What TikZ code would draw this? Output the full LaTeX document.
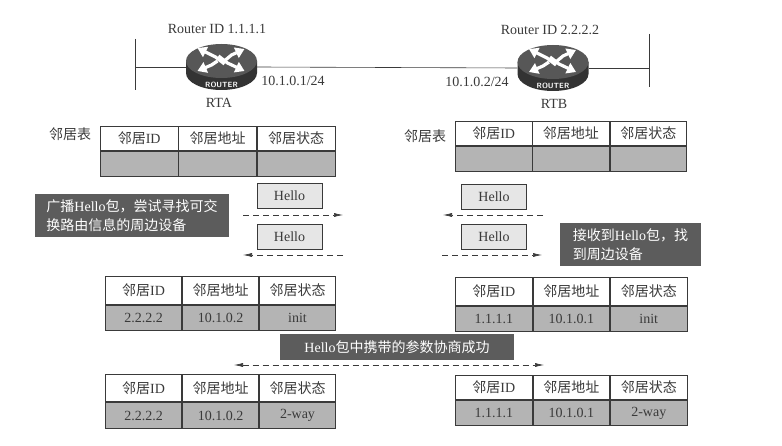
\documentclass[tikz,border=0pt]{standalone}
\usepackage{fontspec}
\setmainfont{Liberation Serif}
\newfontfamily\cjk{Noto Sans CJK SC}
\usetikzlibrary{shapes.geometric,arrows.meta}
\definecolor{inkgray}{HTML}{3A3A3A}
\definecolor{rowgray}{HTML}{B4B4B4}
\definecolor{darkgray}{HTML}{5C5C5C}
\definecolor{hellogray}{HTML}{E6E6E6}
\newcommand{\ZH}[1]{{\cjk #1}}
\tikzset{
  cell/.style={draw=inkgray, line width=0.7pt, anchor=north west, inner sep=0pt, text=inkgray, font=\fontsize{14}{16}\selectfont},
  headcell/.style={cell, fill=white},
  datacell/.style={cell, fill=rowgray},
  hellobox/.style={draw=inkgray, fill=hellogray, line width=0.7pt, inner sep=0pt, minimum width=65pt, minimum height=25pt, text=inkgray, font=\fontsize{14}{16}\selectfont},
  notebox/.style={fill=darkgray, inner sep=0pt, text=white, font=\fontsize{14}{19}\selectfont, align=left},
  label/.style={text=inkgray, inner sep=0pt, font=\fontsize{14}{16}\selectfont},
  hopline/.style={draw=inkgray, dashed, dash pattern=on 6pt off 4pt, line width=0.6pt, -{Latex[length=9pt,width=4pt]}},
  hopboth/.style={hopline, {Latex[length=9pt,width=4pt]}-{Latex[length=9pt,width=4pt]}},
  wire/.style={draw=inkgray, line width=0.6pt},
  routerbody/.style={ellipse, inner sep=0pt, minimum width=71pt, minimum height=46pt},
  routerarrow/.style={white, line width=3.2pt, -{Triangle[length=9pt,width=11pt]}},
}

% name, left, column width, top, head height, row height, values
\newcommand{\NBtable}[9]{
  \node[headcell, minimum width=#3pt, minimum height=#5pt] (#1h1) at (#2, #4) {\ZH{邻居}ID};
  \node[headcell, minimum width=#3pt, minimum height=#5pt] (#1h2) at (#1h1.north east) {\ZH{邻居地址}};
  \node[headcell, minimum width=#3pt, minimum height=#5pt] (#1h3) at (#1h2.north east) {\ZH{邻居状态}};
  \node[datacell, minimum width=#3pt, minimum height=#6pt] (#1d1) at (#1h1.south west) {#7};
  \node[datacell, minimum width=#3pt, minimum height=#6pt] (#1d2) at (#1h2.south west) {#8};
  \node[datacell, minimum width=#3pt, minimum height=#6pt] (#1d3) at (#1h3.south west) {#9};
}

% name, centre
\newcommand{\Router}[2]{
  \node[routerbody] (#1) at #2 {};
  \begin{scope}[shift={#2}]
    \fill[black!80] (-35.5,-6) -- (-35.5,6) arc[start angle=180, end angle=0, x radius=35.5, y radius=17] -- (35.5,-6) -- cycle;
    \fill[darkgray!95!black] (0,-6) ellipse[x radius=35.5, y radius=17];
    \draw[routerarrow] (3,-3) -- (-6,-10) -- (-24,-19);
    \draw[routerarrow] (4,-7) -- (10,-12) -- (23,-18);
    \draw[routerarrow] (-4,-6) -- (-10,-2) -- (-24,4);
    \draw[routerarrow] (-3,-11) -- (6,-4) -- (23,4);
    \node[white, inner sep=0pt, font=\sffamily\bfseries\fontsize{7.5}{8}\selectfont] (#1lab) at (0,18) {ROUTER};
  \end{scope}
}

\begin{document}
\begin{tikzpicture}[x=1pt, y=-1pt]

  \useasboundingbox (0,0) rectangle (782,446);
  \fill[white] (0,0) rectangle (782,446);

  \coordinate (leftA) at (135,39);
  \coordinate (leftB) at (135,90);
  \coordinate (leftM) at (135,67);
  \coordinate (rightA) at (649,34);
  \coordinate (rightB) at (649,87);
  \coordinate (rightM) at (649,68);

  \draw[wire] (leftA) -- (leftB);
  \draw[wire] (rightA) -- (rightB);

  \Router{RTA}{(221.5,67)}
  \Router{RTB}{(553,68)}

  \draw[wire] (leftM) -- (RTA.west);
  \draw[wire] (RTA.east) -- (RTB.west);
  \draw[wire] (RTB.east) -- (rightM);

  \node[label] (ridA) at (217,29) {Router ID 1.1.1.1};
  \node[label] (ridB) at (550,30) {Router ID 2.2.2.2};
  \node[label] (ipA) at (293,81) {10.1.0.1/24};
  \node[label] (ipB) at (477,82) {10.1.0.2/24};
  \node[label] (nameA) at (219,103) {RTA};
  \node[label] (nameB) at (554,104) {RTB};
  \node[label] (tabA) at (70,134) {\ZH{邻居表}};
  \node[label] (tabB) at (425,136) {\ZH{邻居表}};

  % neighbour tables
  \NBtable{ta}{100}{77.7}{126}{24.3}{25.3}{}{}{}
  \NBtable{tb}{455}{76.6}{121}{24.3}{25.3}{}{}{}
  \NBtable{tc}{105}{76.3}{276}{28.3}{25.3}{2.2.2.2}{10.1.0.2}{init}
  \NBtable{td}{455}{76.8}{277}{28.3}{25.3}{1.1.1.1}{10.1.0.1}{init}
  \NBtable{te}{105}{76.3}{374}{27.3}{26.3}{2.2.2.2}{10.1.0.2}{2-way}
  \NBtable{tf}{455}{76.8}{375}{24.3}{25.3}{1.1.1.1}{10.1.0.1}{2-way}

  % hello exchange
  \node[hellobox] (helloA) at (289.5,195.5) {Hello};
  \node[hellobox] (helloB) at (289.5,236.5) {Hello};
  \node[hellobox] (helloC) at (494,196.5) {Hello};
  \node[hellobox] (helloD) at (494,237) {Hello};

  \coordinate (a1) at (243,215);
  \coordinate (a2) at (343,215);
  \coordinate (b1) at (243,255);
  \coordinate (b2) at (343,255);
  \coordinate (c1) at (443,215);
  \coordinate (c2) at (543,215);
  \coordinate (d1) at (442,255);
  \coordinate (d2) at (542,255);
  \coordinate (e1) at (234,365);
  \coordinate (e2) at (544,365);

  \draw[hopline] (a1) -- (a2);
  \draw[hopline] (b2) -- (b1);
  \draw[hopline] (c2) -- (c1);
  \draw[hopline] (d1) -- (d2);
  \draw[hopboth] (e1) -- (e2);

  \node[notebox, minimum width=194pt, minimum height=43pt] (noteA) at (132,215.5) {\ZH{广播}Hello\ZH{包，尝试寻找可交}\\\ZH{换路由信息的周边设备}};
  \node[notebox, minimum width=141pt, minimum height=43pt] (noteB) at (630.5,244.5) {\ZH{接收到}Hello\ZH{包，找}\\\ZH{到周边设备}};
  \node[notebox, minimum width=234pt, minimum height=26pt] (noteC) at (397,347) {Hello\ZH{包中携带的参数协商成功}};

\end{tikzpicture}
\end{document}
